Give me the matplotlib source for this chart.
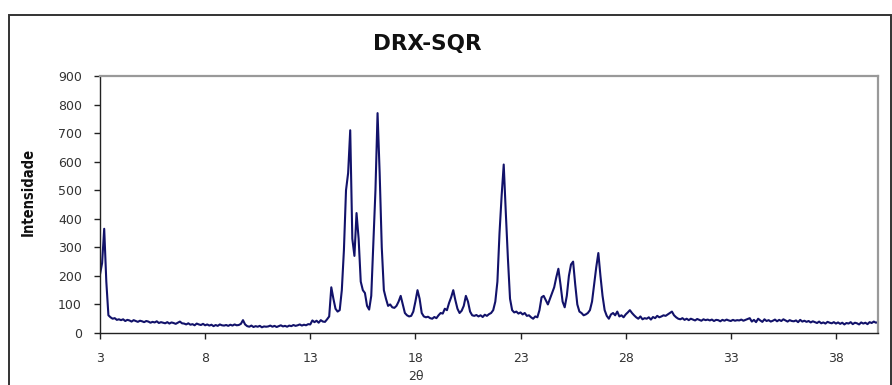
import numpy as np
import matplotlib.pyplot as plt
from matplotlib.patches import Rectangle

# 2-theta scan, 0.1 degree step from 3.0 to 40.0
two_theta_start = 3.0
two_theta_step = 0.1

# intensity counts, one row per degree (3.x, 4.x, ...)
intensity_rows = [
    [205, 245, 365, 180, 62, 55, 50, 52, 46, 48],          # 3
    [45, 48, 42, 46, 44, 40, 45, 42, 39, 43],              # 4
    [41, 38, 42, 40, 36, 39, 37, 41, 35, 38],              # 5
    [36, 34, 38, 33, 37, 35, 32, 36, 40, 34],              # 6
    [33, 30, 34, 29, 31, 27, 33, 30, 28, 32],              # 7
    [27, 30, 26, 29, 24, 28, 25, 30, 27, 26],              # 8
    [28, 25, 29, 26, 30, 27, 28, 32, 45, 30],              # 9
    [24, 22, 26, 21, 24, 22, 25, 20, 23, 22],              # 10
    [23, 26, 22, 25, 21, 24, 27, 23, 25, 22],              # 11
    [26, 24, 28, 25, 27, 30, 26, 29, 27, 31],              # 12
    [30, 44, 38, 43, 36, 45, 40, 39, 48, 58],              # 13
    [160, 120, 85, 75, 80, 150, 290, 500, 560, 710],       # 14
    [330, 270, 420, 330, 180, 150, 140, 95, 82, 130],      # 15
    [320, 500, 770, 560, 300, 150, 120, 95, 100, 90],      # 16
    [88, 95, 110, 130, 100, 70, 62, 58, 60, 75],           # 17
    [110, 150, 120, 70, 58, 55, 57, 52, 50, 56],           # 18
    [52, 62, 70, 68, 85, 80, 105, 125, 150, 115],          # 19
    [85, 70, 78, 95, 130, 110, 75, 62, 60, 63],            # 20
    [58, 62, 56, 64, 60, 66, 70, 80, 110, 180],            # 21
    [350, 480, 590, 420, 260, 120, 80, 72, 75, 68],        # 22
    [72, 65, 70, 60, 62, 55, 50, 58, 55, 80],              # 23
    [125, 130, 115, 100, 120, 140, 160, 195, 225, 170],    # 24
    [110, 90, 130, 200, 240, 250, 170, 100, 75, 70],       # 25
    [62, 65, 70, 80, 110, 170, 230, 280, 200, 130],        # 26
    [80, 60, 50, 65, 70, 62, 75, 58, 62, 55],              # 27
    [65, 72, 80, 70, 62, 55, 50, 58, 48, 52],              # 28
    [50, 55, 47, 56, 52, 60, 55, 58, 62, 60],              # 29
    [65, 70, 75, 62, 55, 50, 48, 52, 46, 50],              # 30
    [45, 50, 47, 44, 49, 46, 43, 48, 45, 47],              # 31
    [44, 47, 42, 46, 45, 41, 46, 43, 47, 44],              # 32
    [42, 46, 43, 45, 44, 47, 43, 46, 49, 52],              # 33
    [40, 46, 38, 50, 44, 39, 48, 42, 45, 40],              # 34
    [43, 47, 41, 46, 42, 48, 44, 40, 45, 42],              # 35
    [41, 44, 38, 46, 40, 43, 39, 42, 37, 41],              # 36
    [38, 35, 40, 34, 37, 33, 39, 36, 34, 38],              # 37
    [33, 37, 32, 36, 30, 35, 33, 38, 31, 36],              # 38
    [34, 30, 37, 33, 36, 31, 38, 35, 40, 36],              # 39
    [38],                                                  # 40
]

x_ticks = [3, 8, 13, 18, 23, 28, 33, 38]
y_ticks = [0, 100, 200, 300, 400, 500, 600, 700, 800, 900]

intensity = np.array([v for row in intensity_rows for v in row], dtype=float)
two_theta = two_theta_start + two_theta_step * np.arange(len(intensity))

W, H = 892, 385
fig = plt.figure(figsize=(W / 100, H / 100), dpi=100)
fig.patch.set_facecolor('white')

# outer chart border
fig.patches.append(Rectangle((9 / W, -0.05), (891 - 9) / W, 1 - 15 / H + 0.05,
                             transform=fig.transFigure, fill=False,
                             edgecolor='#333333', linewidth=1.4))

ax = fig.add_axes([100 / W, 1 - 333 / H, (878 - 100) / W, (333 - 76) / H])
ax.plot(two_theta, intensity, color='#12126a', linewidth=1.5)

ax.set_xlim(3, 40)
ax.set_ylim(0, 900)
ax.set_xticks(x_ticks)
ax.set_yticks(y_ticks)

tick_font = {'family': 'DejaVu Sans', 'size': 9, 'color': '#333333'}
ax.set_xticklabels([str(t) for t in x_ticks], fontdict=tick_font)
ax.set_yticklabels([str(t) for t in y_ticks], fontdict=tick_font)
ax.tick_params(axis='both', direction='out', length=4, width=1, color='#222222')
ax.tick_params(axis='x', pad=10)
ax.tick_params(axis='y', pad=9)

for side in ('left', 'bottom'):
    ax.spines[side].set_color('#222222')
    ax.spines[side].set_linewidth(1.0)
for side in ('top', 'right'):
    ax.spines[side].set_color('#999999')
    ax.spines[side].set_linewidth(1.6)

fig.text(427 / W, 1 - 44 / H, 'DRX-SQR', ha='center', va='center',
         fontsize=15.5, fontweight='bold', family='DejaVu Sans', color='#111111')
fig.text(28 / W, 1 - 192 / H, 'Intensidade', ha='center', va='center', rotation=90,
         fontsize=10.5, fontweight='bold', fontstretch='condensed',
         family='DejaVu Sans', color='#111111')
fig.text(416 / W, 1 - 377 / H, '2θ', ha='center', va='center',
         family='DejaVu Sans', fontsize=9, color='#333333')

fig.savefig('out.png', dpi=100)
